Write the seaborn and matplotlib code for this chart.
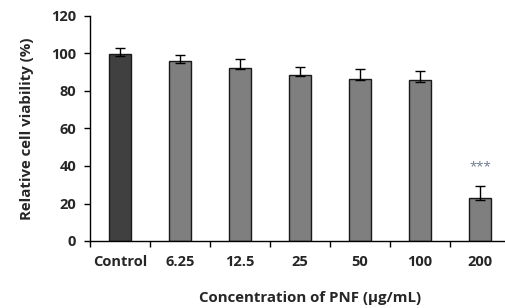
import numpy as np
import pandas as pd
import matplotlib
matplotlib.use("Agg")
import matplotlib.pyplot as plt
import seaborn as sns

# data
conc = ["Control", "6.25", "12.5", "25", "50", "100", "200"]
viability = [99.8, 95.8, 92.5, 88.6, 86.6, 85.8, 23.1]
err_up = [2.9, 3.6, 4.7, 4.3, 5.1, 4.6, 6.1]
err_low = [1.0, 0.9, 0.9, 0.8, 0.9, 1.0, 1.0]
bar_colors = ["#404040", "#7f7f7f", "#7f7f7f", "#7f7f7f", "#7f7f7f", "#7f7f7f", "#7f7f7f"]
signif = ["", "", "", "", "", "", "***"]

sns.set_style("white")
plt.rcParams['font.family'] = ['Open Sans', 'DejaVu Sans']

df = pd.DataFrame({"conc": conc, "viability": viability})

fig = plt.figure(figsize=(5.06, 3.08), dpi=100)
ax = fig.add_axes([90 / 506, 1 - 241 / 308, 420 / 506, 225 / 308])

sns.barplot(data=df, x="conc", y="viability", hue="conc", palette=bar_colors,
            legend=False, width=0.38, edgecolor="#1a1a1a", linewidth=1.0,
            errorbar=None, ax=ax, zorder=2)

xs = np.arange(len(conc))
ax.errorbar(xs, viability, yerr=[err_low, err_up], fmt="none", ecolor="black",
            elinewidth=1.0, capsize=3.5, capthick=1.0, zorder=3)

for x, v, e, s in zip(xs, viability, err_up, signif):
    if s:
        ax.text(x, v + e + 7, s, ha="center", va="bottom", fontsize=9.5,
                color="#6a7888")

ax.set_xlim(-0.5, len(conc) - 0.5)
ax.set_ylim(0, 120)
ax.set_yticks(range(0, 121, 20))

for side in ["top", "right"]:
    ax.spines[side].set_visible(False)
for side in ["left", "bottom"]:
    ax.spines[side].set_color("black")
    ax.spines[side].set_linewidth(1.0)

ax.tick_params(axis="y", which="major", direction="out", length=4, width=1,
               color="black", labelsize=10.5, pad=6, left=True)
ax.tick_params(axis="x", which="major", length=0, labelsize=10.5, pad=10)
ax.set_xticks(np.arange(-0.5, len(conc), 1.0), minor=True)
ax.tick_params(axis="x", which="minor", direction="out", length=4, width=1,
               color="black", bottom=True)

for lab in ax.get_xticklabels() + ax.get_yticklabels():
    lab.set_fontweight("bold")

ax.set_xlabel("Concentration of PNF (μg/mL)", fontsize=10.8, fontweight="bold",
              labelpad=16, x=0.525)
ax.set_ylabel("Relative cell viability (%)", fontsize=10.8, fontweight="bold",
              labelpad=12)

fig.savefig("out.png", dpi=100)
